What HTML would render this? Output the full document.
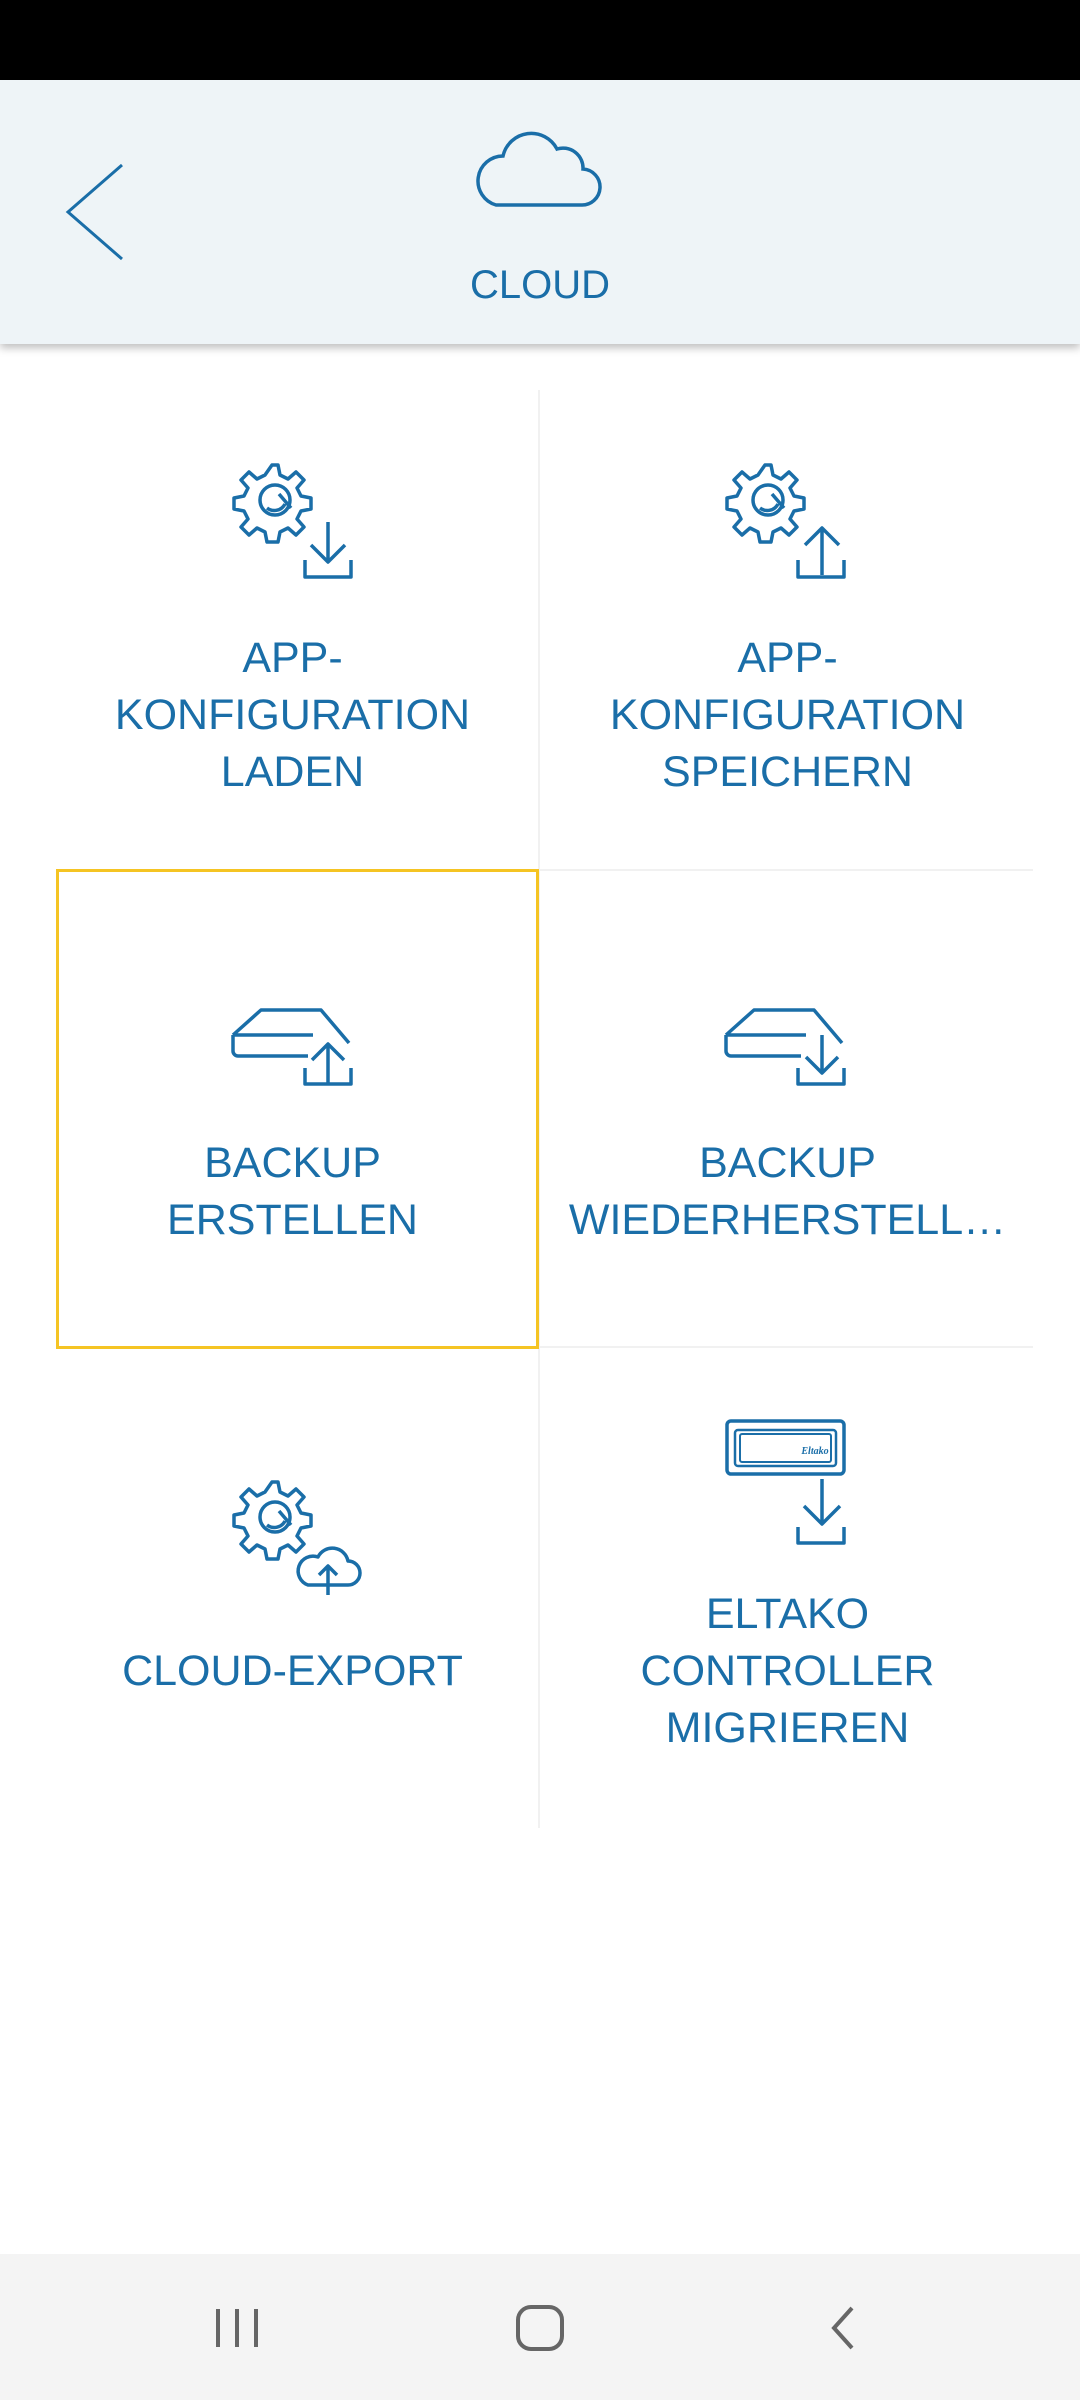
<!DOCTYPE html>
<html><head><meta charset="utf-8"><style>
*{margin:0;padding:0;box-sizing:border-box}
body{width:1080px;height:2400px;background:#fff;position:relative;overflow:hidden;font-family:"Liberation Sans",sans-serif;color:#1a6ea8}
.abs{position:absolute}
.lbl{position:absolute;text-align:center;font-size:43px;line-height:57px;width:481px}
svg{position:absolute;overflow:visible}
</style></head><body>
<div class="abs" style="left:0;top:0;width:1080px;height:80px;background:#000"></div>
<div class="abs" style="left:0;top:80px;width:1080px;height:264px;background:#eef4f7;box-shadow:0 4px 8px rgba(0,0,0,.25)"></div>
<svg style="left:0;top:0" width="1080" height="400" fill="none" stroke="#1a6ea8" stroke-width="3">
<polyline points="122,165 68,212 122,259"/>
<path d="M496,205 h85 a18,18 0 0 0 2,-36 a20,20 0 0 0 -26,-20 a29,29 0 0 0 -54,7 a25,25 0 0 0 -7,49z" stroke-width="3.5"/>
</svg>
<div class="abs" style="left:0;width:1080px;top:263px;text-align:center;font-size:40px">CLOUD</div>

<div class="abs" style="left:538px;top:390px;width:2px;height:1438px;background:#f1f1f1"></div>
<div class="abs" style="left:57px;top:869px;width:976px;height:2px;background:#f1f1f1"></div>
<div class="abs" style="left:57px;top:1346px;width:976px;height:2px;background:#f1f1f1"></div>
<div class="abs" style="left:56px;top:869px;width:483px;height:480px;border:3px solid #f5c423"></div>

<svg style="left:0;top:0" width="1080" height="2400" fill="none" stroke="#1a6ea8" stroke-width="3.5" stroke-linejoin="round">
<defs><g id="gear"><path d="M0,-38 l6,0 2,10 8,4 8,-7 8,8 -7,8 4,8 10,2 0,11 -10,2 -4,8 7,8 -8,8 -8,-7 -8,4 -2,10 -11,0 -2,-10 -8,-4 -8,7 -8,-8 7,-8 -4,-8 -10,-2 0,-11 10,-2 4,-8 -7,-8 8,-8 8,7 8,-4z" transform="translate(-3,3)"/><circle cx="0" cy="0" r="15"/><path d="M-8,8 a12,12 0 0 0 18,-4 M4,-6 l12,14"/></g></defs>
<use href="#gear" x="275" y="500"/>
<path d="M328,522 v38 M311,545 l17,17 17,-17 M305,560 v17 h46 v-17"/>
<use href="#gear" x="768" y="500"/>
<path d="M822,530 v45 M805,545 l17,-17 17,17 M798,560 v17 h46 v-17"/>
<path d="M233,1035 v16 a5,5 0 0 0 5,5 h70 M233,1035 l28,-25 h60 l28,33 M233,1035 h80"/>
<path d="M328,1045 v38 M312,1060 l16,-16 16,16 M305,1068 v16 h46 v-16"/>
<path d="M726,1035 v16 a5,5 0 0 0 5,5 h70 M726,1035 l28,-25 h60 l28,33 M726,1035 h80"/>
<path d="M822,1035 v38 M806,1057 l16,16 16,-16 M798,1068 v16 h46 v-16"/>
<use href="#gear" x="275" y="1517"/>
<path d="M308,1585 h40 a12,12 0 0 0 0,-24 a16,16 0 0 0 -30,-4 a14,14 0 0 0 -10,28z"/>
<path d="M328,1595 v-28 M319,1575 l9,-9 9,9"/>
<rect x="727" y="1421" width="117" height="53" rx="4"/>
<rect x="735" y="1430" width="101" height="36" rx="3" stroke-width="2.5"/>
<rect x="740" y="1434" width="91" height="28" rx="2" stroke-width="2"/>
<text x="815" y="1454" font-size="10" font-style="italic" font-weight="bold" fill="#1a6ea8" stroke="none" font-family="Liberation Serif,serif" text-anchor="middle">Eltako</text>
<path d="M822,1479 v44 M804,1506 l18,18 18,-18 M798,1527 v16 h46 v-16"/>
</svg>

<div class="lbl" style="left:52px;top:630px">APP-<br>KONFIGURATION<br>LADEN</div>
<div class="lbl" style="left:547px;top:630px">APP-<br>KONFIGURATION<br>SPEICHERN</div>
<div class="lbl" style="left:52px;top:1135px">BACKUP<br>ERSTELLEN</div>
<div class="lbl" style="left:547px;top:1135px">BACKUP<br>WIEDERHERSTELL…</div>
<div class="lbl" style="left:52px;top:1643px">CLOUD-EXPORT</div>
<div class="lbl" style="left:547px;top:1586px">ELTAKO<br>CONTROLLER<br>MIGRIEREN</div>

<div class="abs" style="left:0;top:2254px;width:1080px;height:146px;background:#f4f4f4"></div>
<svg style="left:0;top:2254px" width="1080" height="146" fill="none" stroke="#666" stroke-width="4">
<path d="M218,55 v38 M237,55 v38 M256,55 v38"/>
<rect x="518" y="53" width="44" height="42" rx="13"/>
<polyline points="852,54 834,74 852,94"/>
</svg>
</body></html>
